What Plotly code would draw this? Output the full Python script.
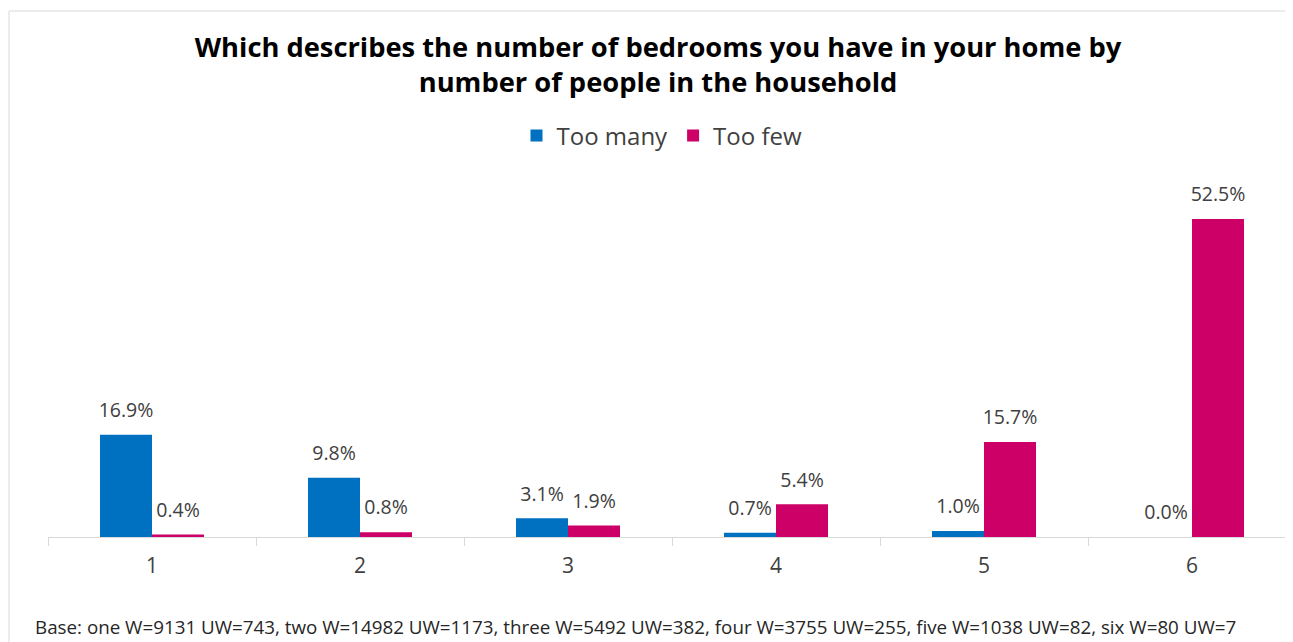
import plotly.graph_objects as go

categories = ["1", "2", "3", "4", "5", "6"]
too_many = [16.9, 9.8, 3.1, 0.7, 1.0, 0.0]
too_few = [0.4, 0.8, 1.9, 5.4, 15.7, 52.5]
series_names = ["Too many", "Too few"]
title_text = "Which describes the number of bedrooms you have in your home by<br>number of people in the household"
footnote = "Base: one W=9131 UW=743, two W=14982 UW=1173, three W=5492 UW=382, four W=3755 UW=255, five W=1038 UW=82, six W=80 UW=7"

# page has an 8px body margin, so the figure is a bit smaller than the window
W, H = 1285, 634
ML, MR, MT, MB = 40, 0, 166, 105
plot_w = W - ML - MR
plot_h = H - MT - MB
cat_px = 208.0
x_hi = -0.5 + plot_w / cat_px
y_hi = plot_h / (318.0 / 52.5)

def px_x(p):
    return (p - ML) / plot_w

def px_y(p):
    return (H - MB - p) / plot_h

FONT = "Open Sans"
LABEL_COLOR = "#404040"

fig = go.Figure()
for name, vals, col in [(series_names[0], too_many, "#0070C0"), (series_names[1], too_few, "#CC0066")]:
    fig.add_trace(go.Bar(
        x=categories, y=vals, name=name,
        marker=dict(color=col, line=dict(width=0)),
        texttemplate="<span style='font-size:19.5px'>%{y:.1f}%</span><br>&nbsp;",
        textposition="outside",
        constraintext="none",
        textfont=dict(family=FONT, size=9, color=LABEL_COLOR),
        cliponaxis=False,
    ))

fig.update_layout(
    width=W, height=H,
    margin=dict(l=ML, r=MR, t=MT, b=MB),
    paper_bgcolor="white", plot_bgcolor="white",
    barmode="group", bargap=0.5, bargroupgap=0,
    font=dict(family=FONT, color=LABEL_COLOR),
    title=dict(
        text=title_text,
        x=650 / W, xanchor="center",
        y=1 - 48.5 / H, yanchor="middle", yref="container",
        font=dict(family=FONT, size=27.3, color="black", weight="bold"),
    ),
    legend=dict(
        orientation="h", x=px_x(654), xanchor="center",
        y=px_y(128), yanchor="middle",
        font=dict(family=FONT, size=24, color=LABEL_COLOR),
        traceorder="normal", itemwidth=30,
    ),
    showlegend=True,
    xaxis=dict(
        type="category", range=[-0.5, x_hi],
        showline=True, linecolor="#d9d9d9", linewidth=1,
        ticks="outside", tickson="boundaries", ticklen=8, tickcolor="#d9d9d9",
        ticklabelstandoff=10,
        tickfont=dict(family=FONT, size=21, color=LABEL_COLOR),
        showgrid=False,
    ),
    yaxis=dict(range=[0, y_hi], visible=False, showgrid=False, zeroline=False),
    shapes=[dict(
        type="rect", xref="paper", yref="paper",
        x0=px_x(1), x1=px_x(1400), y0=px_y(700), y1=px_y(3),
        line=dict(color="#d9d9d9", width=1), fillcolor="rgba(0,0,0,0)", layer="below",
    )],
    annotations=[dict(
        text=footnote, xref="paper", yref="paper",
        x=px_x(25), y=px_y(619), xanchor="left", yanchor="middle",
        showarrow=False, font=dict(family=FONT, size=18.8, color="#262626"),
    )],
)

fig.write_html("out.html")
